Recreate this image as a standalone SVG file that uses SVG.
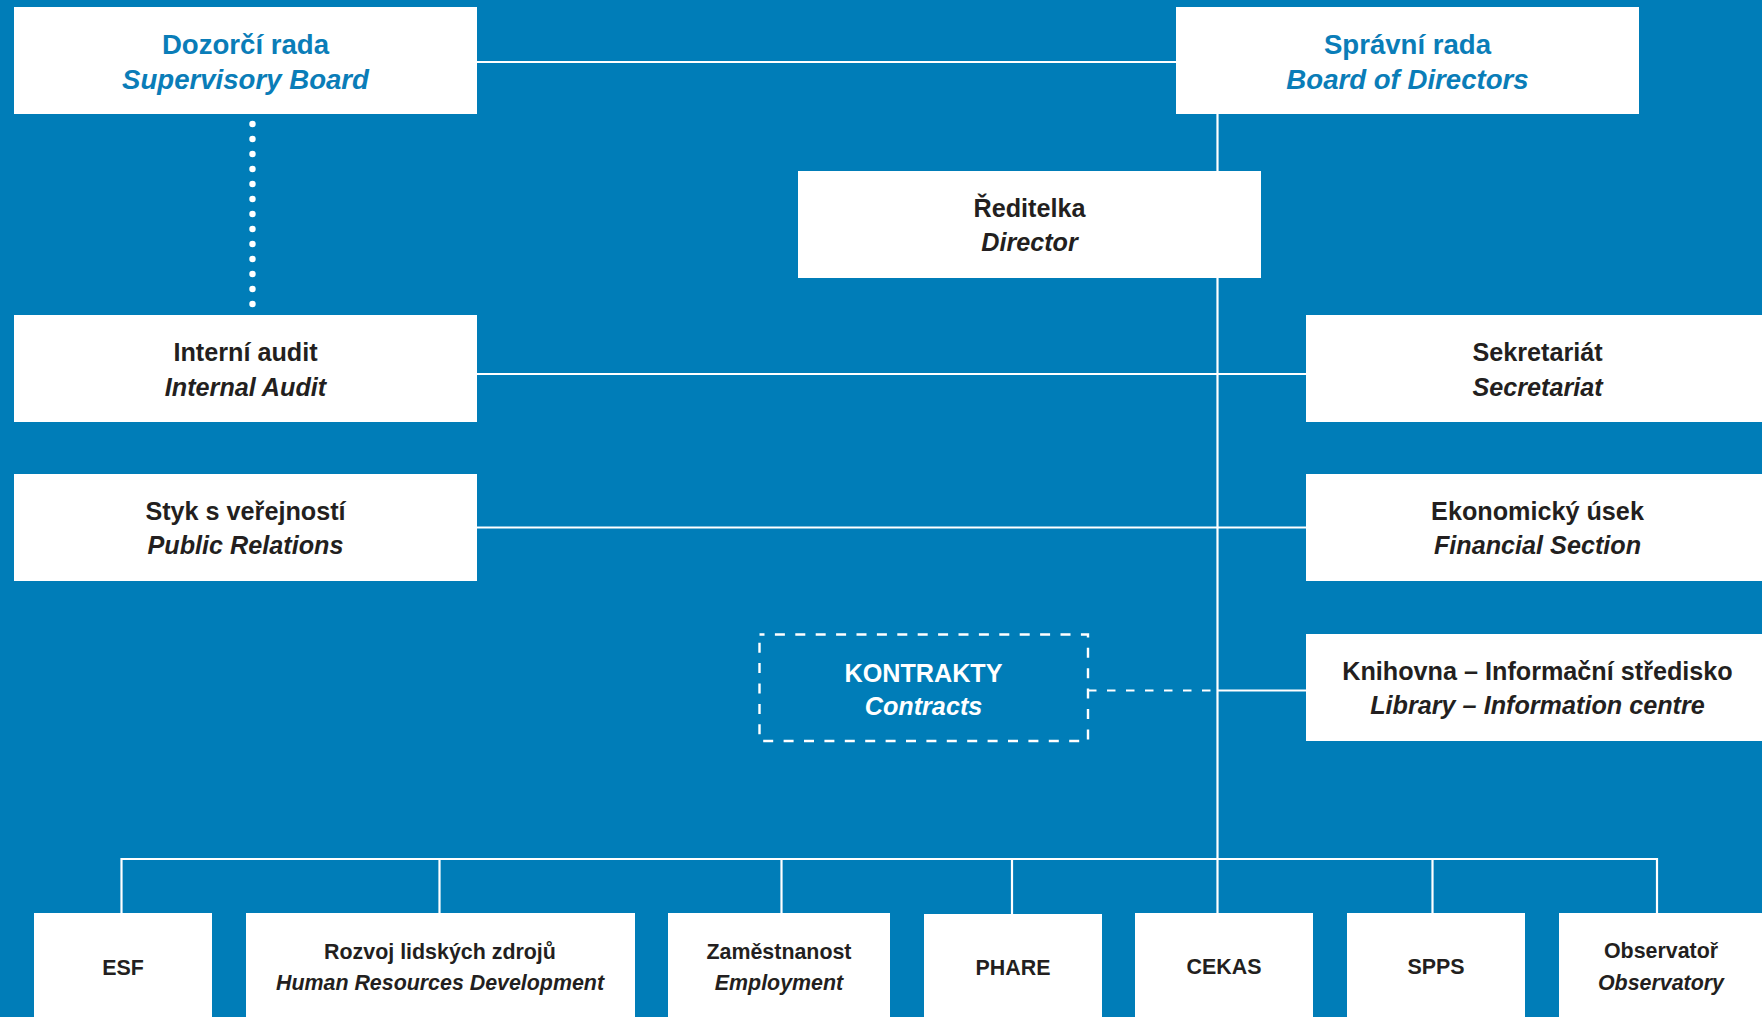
<svg xmlns="http://www.w3.org/2000/svg" width="1762" height="1017" viewBox="0 0 1762 1017">
<style>
.box{fill:#ffffff}
.ln{stroke:#ffffff;stroke-width:2.2;fill:none}
.t{font-family:"Liberation Sans",Arial,sans-serif;font-weight:bold;text-anchor:middle;fill:#231f20}
.i{font-style:italic}
.b{fill:#0a7db8}
.w{fill:#ffffff}
.m{font-size:25.2px}
.lg{font-size:27.6px}
.sm{font-size:21.4px}
</style>
<rect x="0" y="0" width="1762" height="1017" fill="#007db8"/>
<g id="connectors">
<line class="ln" x1="477" y1="62" x2="1176" y2="62"/>
<line x1="252.5" y1="124" x2="252.5" y2="305" stroke="#ffffff" stroke-width="6.5" stroke-linecap="round" stroke-dasharray="0 15"/>
<line class="ln" x1="1217.5" y1="114" x2="1217.5" y2="913" stroke-width="2.5"/>
<line class="ln" x1="477" y1="374" x2="1306" y2="374"/>
<line class="ln" x1="477" y1="527.5" x2="1306" y2="527.5"/>
<line class="ln" x1="1088" y1="690.5" x2="1217.5" y2="690.5" stroke-dasharray="8.5 10.5" stroke-width="2.4"/>
<line class="ln" x1="1217.5" y1="690.5" x2="1306" y2="690.5"/>
<line class="ln" x1="121.5" y1="859" x2="1657" y2="859"/>
<line class="ln" x1="121.5" y1="858" x2="121.5" y2="913"/>
<line class="ln" x1="439.5" y1="858" x2="439.5" y2="913"/>
<line class="ln" x1="781.5" y1="858" x2="781.5" y2="913"/>
<line class="ln" x1="1012" y1="858" x2="1012" y2="914"/>
<line class="ln" x1="1432.5" y1="858" x2="1432.5" y2="913"/>
<line class="ln" x1="1657" y1="858" x2="1657" y2="913"/>
</g>
<g id="supervisory-board">
<rect class="box" x="14" y="7" width="463" height="107"/>
<text class="t b lg" x="245.5" y="53.5">Dozorčí rada</text>
<text class="t b lg i" x="245.5" y="88.5">Supervisory Board</text>
</g>
<g id="board-of-directors">
<rect class="box" x="1176" y="7" width="463" height="107"/>
<text class="t b lg" x="1407.5" y="53.5">Správní rada</text>
<text class="t b lg i" x="1407.5" y="88.5">Board of Directors</text>
</g>
<g id="director">
<rect class="box" x="798" y="171" width="463" height="107"/>
<text class="t m" x="1029.5" y="217">Ředitelka</text>
<text class="t m i" x="1029.5" y="251">Director</text>
</g>
<g id="internal-audit">
<rect class="box" x="14" y="315" width="463" height="107"/>
<text class="t m" x="245.5" y="361">Interní audit</text>
<text class="t m i" x="245.5" y="396">Internal Audit</text>
</g>
<g id="public-relations">
<rect class="box" x="14" y="474" width="463" height="107"/>
<text class="t m" x="245.5" y="520">Styk s veřejností</text>
<text class="t m i" x="245.5" y="554">Public Relations</text>
</g>
<g id="secretariat">
<rect class="box" x="1306" y="315" width="470" height="107"/>
<text class="t m" x="1537.5" y="361">Sekretariát</text>
<text class="t m i" x="1537.5" y="396">Secretariat</text>
</g>
<g id="financial-section">
<rect class="box" x="1306" y="474" width="470" height="107"/>
<text class="t m" x="1537.5" y="520">Ekonomický úsek</text>
<text class="t m i" x="1537.5" y="554">Financial Section</text>
</g>
<g id="library">
<rect class="box" x="1306" y="634" width="470" height="107"/>
<text class="t m" x="1537.5" y="680">Knihovna – Informační středisko</text>
<text class="t m i" x="1537.5" y="714">Library – Information centre</text>
</g>
<g id="contracts">
<rect x="759.5" y="634.5" width="328.5" height="106.5" fill="none" stroke="#ffffff" stroke-width="2.4" stroke-dasharray="10 10.4" stroke-dashoffset="5"/>
<text class="t w m" x="923.5" y="681.5">KONTRAKTY</text>
<text class="t w m i" x="923.5" y="715">Contracts</text>
</g>
<g id="esf">
<rect class="box" x="34" y="913" width="178" height="110"/>
<text class="t sm" x="123" y="975">ESF</text>
</g>
<g id="hrd">
<rect class="box" x="246" y="913" width="389" height="110"/>
<text class="t sm" x="440" y="959">Rozvoj lidských zdrojů</text>
<text class="t sm i" x="440" y="990">Human Resources Development</text>
</g>
<g id="employment">
<rect class="box" x="668" y="913" width="222" height="110"/>
<text class="t sm" x="779" y="959">Zaměstnanost</text>
<text class="t sm i" x="779" y="990">Employment</text>
</g>
<g id="phare">
<rect class="box" x="924" y="914" width="178" height="110"/>
<text class="t sm" x="1013" y="975">PHARE</text>
</g>
<g id="cekas">
<rect class="box" x="1135" y="913" width="178" height="110"/>
<text class="t sm" x="1224" y="974">CEKAS</text>
</g>
<g id="spps">
<rect class="box" x="1347" y="913" width="178" height="110"/>
<text class="t sm" x="1436" y="974">SPPS</text>
</g>
<g id="observatory">
<rect class="box" x="1559" y="913" width="210" height="110"/>
<text class="t sm" x="1661" y="958">Observatoř</text>
<text class="t sm i" x="1661" y="990">Observatory</text>
</g>
</svg>
